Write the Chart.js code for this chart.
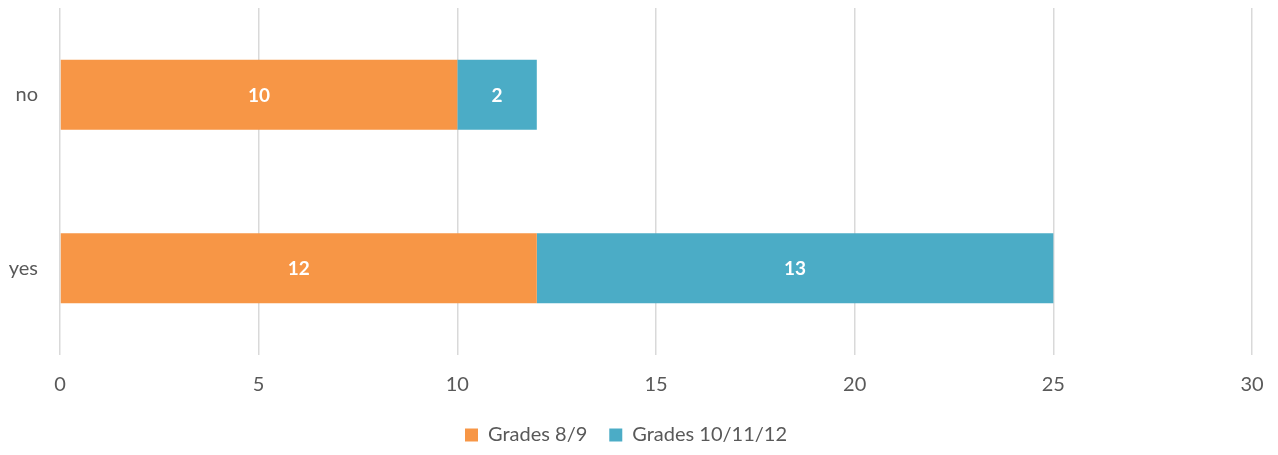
<!DOCTYPE html>
<html>
<head>
<meta charset="utf-8">
<script src="https://cdn.jsdelivr.net/npm/chart.js@4/dist/chart.umd.min.js"></script>
<style>
  html, body { margin: 0; padding: 0; background: #fff; }
  #wrap { width: 1278px; height: 455px; }
</style>
</head>
<body>
<div id="wrap"><canvas id="chartGrades"></canvas></div>
<script>
const categorias = ["no", "yes"];
const grados89 = [10, 12];
const grados101112 = [2, 13];
const ticksX = [0, 5, 10, 15, 20, 25, 30];

const fuente = "Lato, 'Open Sans', sans-serif";

// etiquetas blancas en el centro de cada barra
const etiquetasBarras = {
    id: "etiquetasBarras",
    afterDatasetsDraw(chart) {
        const ctx = chart.ctx;
        ctx.save();
        ctx.fillStyle = "#ffffff";
        ctx.font = "bold 19px " + fuente;
        ctx.textAlign = "center";
        ctx.textBaseline = "middle";
        chart.data.datasets.forEach((ds, i) => {
            chart.getDatasetMeta(i).data.forEach((bar, j) => {
                const p = bar.getProps(["x", "y", "base"], true);
                ctx.fillText(ds.data[j], (p.x + p.base) / 2, p.y + 1);
            });
        });
        ctx.restore();
    },
};

const dataGrades = {
    labels: categorias,
    datasets: [
        {
            label: "Grades 8/9",
            data: grados89,
            backgroundColor: "#F79646",
            barPercentage: 0.403,
            categoryPercentage: 1,
        },
        {
            label: "Grades 10/11/12",
            data: grados101112,
            backgroundColor: "#4BACC6",
            barPercentage: 0.403,
            categoryPercentage: 1,
        },
    ],
};

const configGrades = {
    type: "bar",
    data: dataGrades,
    options: {
        indexAxis: "y",
        responsive: true,
        maintainAspectRatio: false,
        animation: false,
        layout: {
            padding: { top: 8, right: 26, left: 0, bottom: 0 },
        },
        scales: {
            x: {
                stacked: true,
                min: 0,
                max: 30,
                afterBuildTicks: (scale) => {
                    scale.ticks = ticksX.map((v) => ({ value: v }));
                },
                afterFit: (scale) => {
                    scale.height = 48;
                    scale.paddingLeft = 0;
                    scale.paddingRight = 0;
                },
                grid: { color: "#d9d9d9", lineWidth: 1.5, drawTicks: false },
                border: { display: false },
                ticks: {
                    padding: 18,
                    color: "#595959",
                    font: { family: fuente, size: 20 },
                },
            },
            y: {
                stacked: true,
                afterFit: (scale) => {
                    scale.width = 60;
                    scale.paddingTop = 0;
                    scale.paddingBottom = 0;
                },
                grid: { display: false, drawTicks: false },
                border: { display: false },
                ticks: {
                    padding: 22,
                    color: "#595959",
                    font: { family: fuente, size: 20 },
                },
            },
        },
        plugins: {
            tooltip: { enabled: false },
            legend: {
                position: "bottom",
                labels: {
                    boxWidth: 13,
                    boxHeight: 13,
                    padding: 22,
                    color: "#595959",
                    font: { family: fuente, size: 20 },
                },
            },
        },
    },
    plugins: [etiquetasBarras],
};

const ChartGrades = new Chart(document.getElementById("chartGrades"), configGrades);
</script>
</body>
</html>
